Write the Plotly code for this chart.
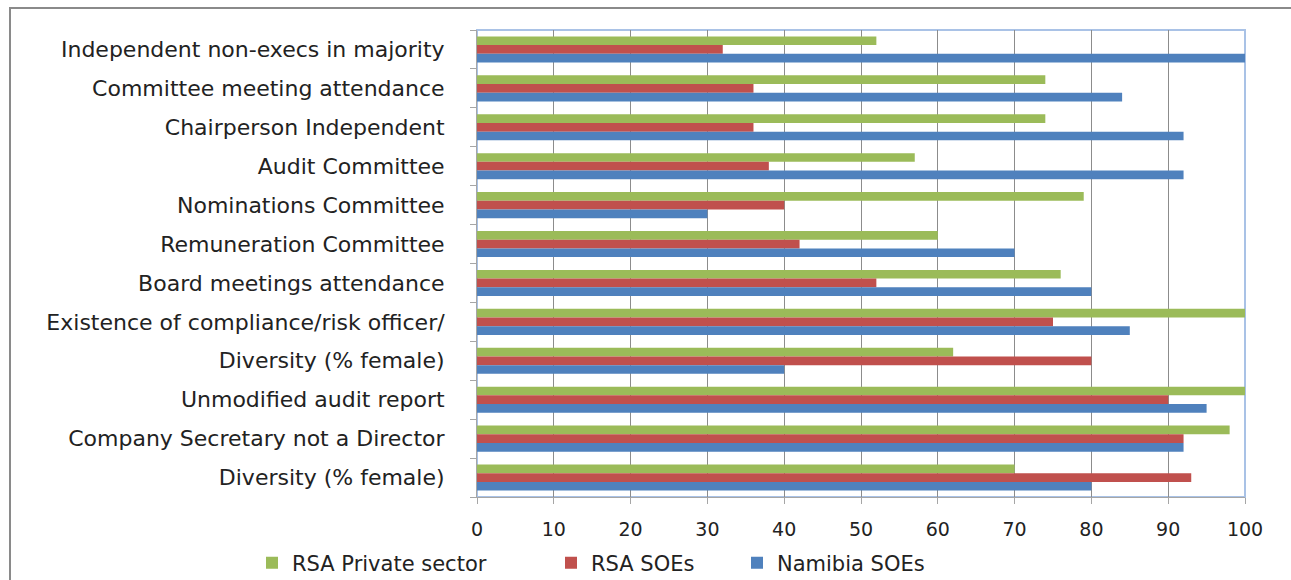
import plotly.graph_objects as go

# Governance indicators, listed top to bottom
indicators = [
    "Independent non-execs in majority",
    "Committee meeting attendance",
    "Chairperson Independent",
    "Audit Committee",
    "Nominations Committee",
    "Remuneration Committee",
    "Board meetings attendance",
    "Existence of compliance/risk officer/",
    "Diversity (% female)",
    "Unmodified audit report",
    "Company Secretary not a Director",
    "Diversity (% female)",
]

rsa_private = [52, 74, 74, 57, 79, 60, 76, 100, 62, 100, 98, 70]
rsa_soes = [32, 36, 36, 38, 40, 42, 52, 75, 80, 90, 92, 93]
namibia_soes = [100, 84, 92, 92, 30, 70, 80, 85, 40, 95, 92, 80]

# positions keep the two identical "Diversity" labels as separate rows
positions = list(range(len(indicators)))

GREEN = "#9BBB59"
RED = "#C0504D"
BLUE = "#4F81BD"
FONT = "DejaVu Sans"
TEXT = "#222222"

W, H = 1291, 580
L, R, T, B = 477, 46, 30, 83
pw, ph = W - L - R, H - T - B


def px_x(p):
    return (p - L) / pw


def px_y(p):
    return (H - B - p) / ph


series = [
    ("RSA Private sector", rsa_private, GREEN, "legend", 297),
    ("RSA SOEs", rsa_soes, RED, "legend2", 596),
    ("Namibia SOEs", namibia_soes, BLUE, "legend3", 782),
]

fig = go.Figure()
legends = {}
for name, values, color, leg, text_x in series:
    fig.add_trace(go.Bar(
        name=name, x=values, y=positions, orientation="h",
        marker=dict(color=color, line=dict(width=0)),
        legend=leg,
    ))
    legends[leg] = dict(
        orientation="h", x=px_x(text_x - 45), xanchor="left",
        y=px_y(563), yanchor="middle",
        font=dict(family=FONT, size=21, color=TEXT),
        bgcolor="rgba(0,0,0,0)",
    )

fig.update_layout(
    width=W, height=H,
    margin=dict(l=L, r=R, t=T, b=B, pad=0, autoexpand=False),
    paper_bgcolor="white", plot_bgcolor="white",
    barmode="group", bargap=0.33, bargroupgap=0,
    font=dict(family=FONT, color=TEXT),
    showlegend=True,
    **legends,
    xaxis=dict(
        range=[0, 100], tickmode="linear", tick0=0, dtick=10,
        showgrid=True, gridcolor="#8C8C8C", gridwidth=1,
        showline=True, linecolor="#A6A6A6", linewidth=1,
        ticks="outside", ticklen=6, tickcolor="#A6A6A6",
        ticklabelstandoff=9,
        tickfont=dict(family=FONT, size=19, color=TEXT),
        zeroline=False, fixedrange=True, automargin=False,
    ),
    yaxis=dict(
        range=[len(indicators) - 0.5, -0.5],
        tickmode="array", tickvals=positions, ticktext=indicators,
        ticks="", showgrid=False, zeroline=False,
        showline=True, linecolor="#A6A6A6", linewidth=1,
        ticklabelstandoff=27,
        tickfont=dict(family=FONT, size=22, color=TEXT),
        minor=dict(
            tickmode="array",
            tickvals=[p - 0.5 for p in positions] + [len(indicators) - 0.5],
            ticks="outside", ticklen=6, tickcolor="#A6A6A6", showgrid=False,
        ),
        fixedrange=True, automargin=False,
    ),
    shapes=[
        # plot area outline
        dict(type="rect", xref="paper", yref="paper", x0=0, x1=1, y0=0, y1=1,
             line=dict(color="#A9C2E6", width=2), layer="below"),
        # chart frame
        dict(type="rect", xref="paper", yref="paper",
             x0=px_x(10), x1=px_x(1310), y0=px_y(600), y1=px_y(8),
             line=dict(color="#8A8A8A", width=2)),
    ],
)

fig.write_html("out.html")
